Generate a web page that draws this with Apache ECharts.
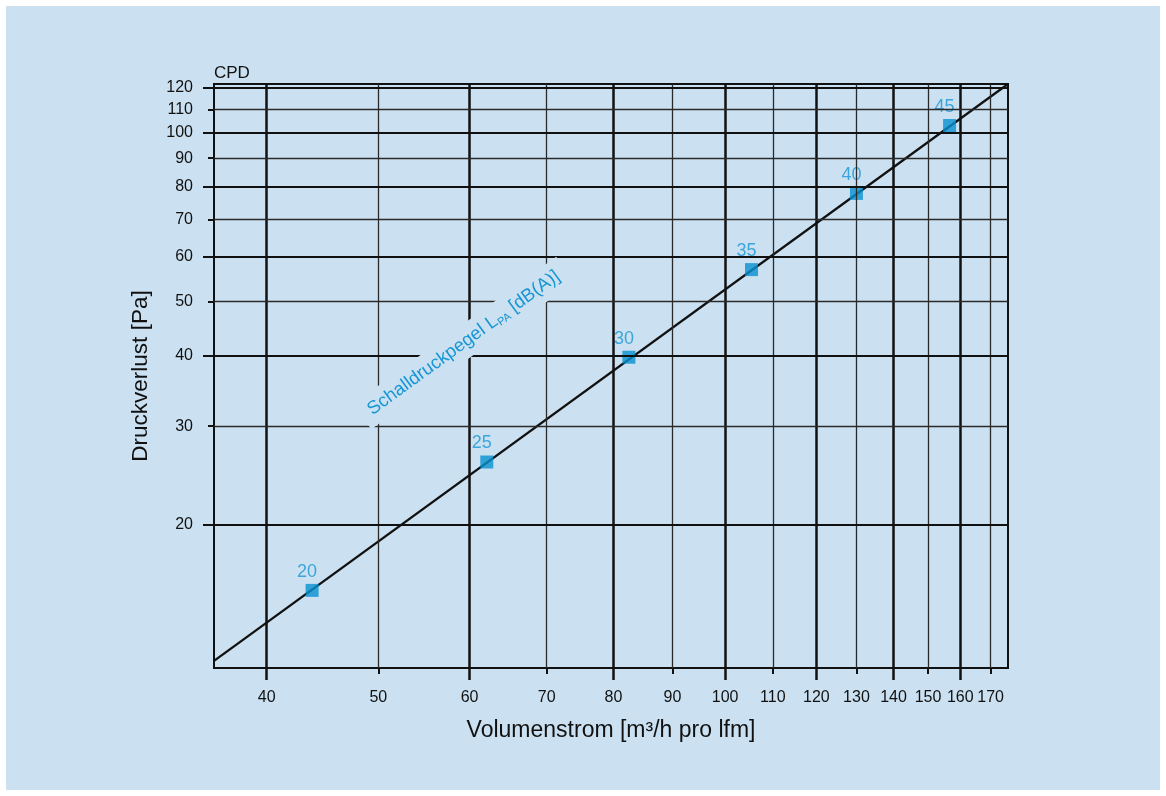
<!DOCTYPE html>
<html>
<head>
<meta charset="utf-8">
<script src="https://cdn.jsdelivr.net/npm/echarts@6/dist/echarts.min.js"></script>
<style>
  html, body { margin: 0; padding: 0; background: #ffffff; }
  #chart { position: absolute; left: 6px; top: 6px; width: 1154px; height: 784px; }
</style>
</head>
<body>
<div id="chart"></div>
<script>
// ---- data ----
const xMajorTicks = [40, 60, 80, 100, 120, 140, 160];
const xMinorTicks = [50, 70, 90, 110, 130, 150, 170];
const yMajorTicks = [20, 40, 60, 80, 100, 120];
const yMinorTicks = [30, 50, 70, 90, 110];
const soundLevels = ['20', '25', '30', '35', '40', '45'];
const flowValues = [43.8, 62.1, 82.5, 105.4, 130.0, 156.6];
const pressureValues = [15.3, 25.9, 39.8, 57.0, 77.9, 102.9];
const trendFlow = [36, 176];
const trendPressure = [11.46, 122];
const annotationAt = [59.3, 42.2];

const BG = '#cbe1f1';
const BLUE = '#1896d3';
const FONT = '"Liberation Sans", Arial, sans-serif';

const chart = echarts.init(document.getElementById('chart'));

const xRange = { min: 36, max: 176 };
const yRange = { min: 11.13, max: 122 };

function gridLines(values, key, width, color) {
  return values.map(v => ({ [key]: v, lineStyle: { width: width, color: color, type: 'solid' } }));
}

const markData = []
  .concat(gridLines(xMajorTicks, 'xAxis', 2.5, '#111'))
  .concat(gridLines(xMinorTicks, 'xAxis', 1.3, '#2a2a2a'))
  .concat(gridLines(yMajorTicks, 'yAxis', 2, '#111'))
  .concat(gridLines(yMinorTicks, 'yAxis', 1.3, '#2a2a2a'));

const option = {
  backgroundColor: BG,
  animation: false,
  textStyle: { fontFamily: FONT },
  title: {
    text: 'CPD', left: 208, top: 59, padding: 0,
    textStyle: { fontSize: 17, fontWeight: 'normal', color: '#111', fontFamily: FONT }
  },
  grid: {
    left: 208, top: 78, width: 794, height: 584,
    show: true, borderColor: '#111', borderWidth: 2, backgroundColor: 'transparent'
  },
  xAxis: [
    {
      type: 'log', logBase: 10, min: xRange.min, max: xRange.max, position: 'bottom',
      name: 'Volumenstrom [m³/h pro lfm]', nameLocation: 'middle', nameGap: 51,
      nameTextStyle: { fontSize: 23, color: '#111', fontFamily: FONT },
      axisLine: { show: true, lineStyle: { color: '#111', width: 2 } },
      axisTick: { show: true, customValues: xMajorTicks, length: 12, lineStyle: { color: '#111', width: 2.5 } },
      axisLabel: { show: true, customValues: xMajorTicks, margin: 22, fontSize: 16, color: '#111', fontFamily: FONT },
      splitLine: { show: false }, minorTick: { show: false }, minorSplitLine: { show: false }
    },
    {
      type: 'log', logBase: 10, min: xRange.min, max: xRange.max, position: 'bottom', offset: 0,
      axisLine: { show: false },
      axisTick: { show: true, customValues: xMinorTicks, length: 6, lineStyle: { color: '#111', width: 2 } },
      axisLabel: { show: true, customValues: xMinorTicks, margin: 22, fontSize: 16, color: '#111', fontFamily: FONT },
      splitLine: { show: false }
    }
  ],
  yAxis: [
    {
      type: 'log', logBase: 10, min: yRange.min, max: yRange.max, position: 'left',
      name: 'Druckverlust [Pa]', nameLocation: 'middle', nameGap: 62, nameRotate: 90,
      nameTextStyle: { fontSize: 22.5, color: '#111', fontFamily: FONT },
      axisLine: { show: true, lineStyle: { color: '#111', width: 2 } },
      axisTick: { show: true, customValues: yMajorTicks, length: 11, lineStyle: { color: '#111', width: 2 } },
      axisLabel: { show: true, customValues: yMajorTicks, margin: 21, fontSize: 16, color: '#111', fontFamily: FONT },
      splitLine: { show: false }
    },
    {
      type: 'log', logBase: 10, min: yRange.min, max: yRange.max, position: 'left', offset: 0,
      axisLine: { show: false },
      axisTick: { show: true, customValues: yMinorTicks, length: 6, lineStyle: { color: '#111', width: 2 } },
      axisLabel: { show: true, customValues: yMinorTicks, margin: 21, fontSize: 16, color: '#111', fontFamily: FONT },
      splitLine: { show: false }
    }
  ],
  series: [
    {
      name: 'grid', type: 'scatter', xAxisIndex: 0, yAxisIndex: 0, data: [], z: 1, silent: true,
      markLine: {
        silent: true, symbol: 'none', animation: false,
        label: { show: false },
        emphasis: { disabled: true },
        data: markData
      }
    },
    {
      name: 'trend', type: 'line', xAxisIndex: 0, yAxisIndex: 0, z: 3, silent: true,
      symbol: 'none', lineStyle: { color: '#111', width: 2.3 },
      data: trendFlow.map((x, i) => [x, trendPressure[i]]),
      markPoint: {
        symbol: 'circle', symbolSize: 0, silent: true,
        data: [{
          coord: annotationAt,
          label: {
            show: true, position: 'inside', rotate: 36,
            formatter: '{a|Schalldruckpegel L}{s|PA}{a| [dB(A)]}',
            backgroundColor: BG, padding: [5, 9],
            rich: {
              a: { fontSize: 18.5, color: BLUE, fontFamily: FONT },
              s: { fontSize: 11, color: BLUE, fontFamily: FONT, verticalAlign: 'bottom', padding: [10, 0, 0, 0] }
            }
          }
        }]
      }
    },
    {
      name: 'levels', type: 'scatter', xAxisIndex: 0, yAxisIndex: 0, z: 4,
      symbol: 'rect', symbolSize: 13,
      itemStyle: { color: '#0791d0' },
      data: flowValues.map((x, i) => [x, pressureValues[i], soundLevels[i]]),
      label: {
        show: true, position: 'top', distance: 3, offset: [-5, 0],
        formatter: p => p.data[2],
        fontSize: 18, color: BLUE, fontFamily: FONT,
        backgroundColor: BG, padding: [0, 3]
      }
    }
  ]
};

chart.setOption(option);
</script>
</body>
</html>
